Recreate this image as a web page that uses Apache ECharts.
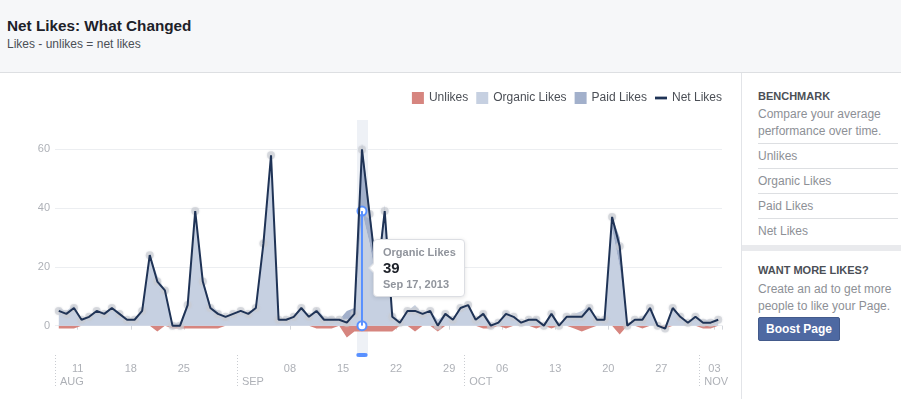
<!DOCTYPE html>
<html>
<head>
<meta charset="utf-8">
<script src="https://cdn.jsdelivr.net/npm/echarts@6/dist/echarts.min.js"></script>
<style>
html,body{margin:0;padding:0;width:901px;height:399px;overflow:hidden;background:#fff;font-family:"Liberation Sans",Helvetica,Arial,sans-serif;}
#header{position:absolute;left:0;top:0;width:901px;height:72px;background:#f6f7f9;border-bottom:1px solid #dddfe2;}
.t{position:absolute;white-space:nowrap;line-height:1;}
#chart{position:absolute;left:0;top:0;width:742px;height:399px;}
#side{position:absolute;left:741px;top:73px;width:160px;height:326px;border-left:1px solid #e2e4e8;background:#fff;}
.sep{position:absolute;left:16px;width:140px;height:1px;background:#dddfe2;}
#band{position:absolute;left:0;top:172px;width:160px;height:6px;background:#e9eaed;}
#btn{position:absolute;left:16px;top:244px;width:80px;height:22px;background:#4e69a2;border:1px solid #435a8b;border-radius:2px;color:#fff;font-weight:bold;font-size:12px;text-align:center;line-height:22px;}
</style>
</head>
<body>
<div id="header">
  <div class="t" style="left:7px;top:18px;font-size:15.3px;font-weight:bold;color:#1d2129;">Net Likes: What Changed</div>
  <div class="t" style="left:7px;top:38px;font-size:12px;color:#4b4f56;">Likes - unlikes = net likes</div>
</div>
<div id="side">
  <div class="t" style="left:16px;top:18px;font-size:11px;font-weight:bold;color:#4b4f56;">BENCHMARK</div>
  <div class="t" style="left:16px;top:35px;font-size:12px;color:#8d9096;">Compare your average</div>
  <div class="t" style="left:16px;top:52px;font-size:12px;color:#8d9096;">performance over time.</div>
  <div class="sep" style="top:70px;"></div>
  <div class="t" style="left:16px;top:77px;font-size:12px;color:#8d9096;">Unlikes</div>
  <div class="sep" style="top:95px;"></div>
  <div class="t" style="left:16px;top:102px;font-size:12px;color:#8d9096;">Organic Likes</div>
  <div class="sep" style="top:120px;"></div>
  <div class="t" style="left:16px;top:127px;font-size:12px;color:#8d9096;">Paid Likes</div>
  <div class="sep" style="top:145px;"></div>
  <div class="t" style="left:16px;top:152px;font-size:12px;color:#8d9096;">Net Likes</div>
  <div id="band"></div>
  <div class="t" style="left:16px;top:192px;font-size:11px;font-weight:bold;color:#4b4f56;">WANT MORE LIKES?</div>
  <div class="t" style="left:16px;top:210px;font-size:12px;color:#8d9096;">Create an ad to get more</div>
  <div class="t" style="left:16px;top:227px;font-size:12px;color:#8d9096;">people to like your Page.</div>
  <div id="btn">Boost Page</div>
</div>
<div id="chart"></div>
<script>
// ---- data ----
const dates = [
'2013-08-08','2013-08-09','2013-08-10','2013-08-11','2013-08-12','2013-08-13','2013-08-14','2013-08-15','2013-08-16','2013-08-17',
'2013-08-18','2013-08-19','2013-08-20','2013-08-21','2013-08-22','2013-08-23','2013-08-24','2013-08-25','2013-08-26','2013-08-27',
'2013-08-28','2013-08-29','2013-08-30','2013-08-31','2013-09-01','2013-09-02','2013-09-03','2013-09-04','2013-09-05','2013-09-06',
'2013-09-07','2013-09-08','2013-09-09','2013-09-10','2013-09-11','2013-09-12','2013-09-13','2013-09-14','2013-09-15','2013-09-16',
'2013-09-17','2013-09-18','2013-09-19','2013-09-20','2013-09-21','2013-09-22','2013-09-23','2013-09-24','2013-09-25','2013-09-26',
'2013-09-27','2013-09-28','2013-09-29','2013-09-30','2013-10-01','2013-10-02','2013-10-03','2013-10-04','2013-10-05','2013-10-06',
'2013-10-07','2013-10-08','2013-10-09','2013-10-10','2013-10-11','2013-10-12','2013-10-13','2013-10-14','2013-10-15','2013-10-16',
'2013-10-17','2013-10-18','2013-10-19','2013-10-20','2013-10-21','2013-10-22','2013-10-23','2013-10-24','2013-10-25','2013-10-26',
'2013-10-27','2013-10-28','2013-10-29','2013-10-30','2013-10-31','2013-11-01','2013-11-02','2013-11-03'
];
const netLikes = [
5,4,6,2,3,5,4,6,4,2,
2,5,24,15,12,0,0,7,39,15,
6,4,3,4,5,4,6,28,58,2,
2,3,6,3,5,2,2,2,1,4,
60,38,16,39,3,1,5,5,4,5,
0,4,2,6,7,2,4,0,1,4,
3,1,2,2,0,4,0,3,3,3,
6,2,2,37,27,0,2,2,6,0,
-1,6,3,1,3,1,1,2
];
const organicLikes = [
6,5,7,2,3,5,4,6,4,2,
2,5,24,17,12,1,1,8,40,16,
7,5,3,4,5,4,6,28,58,2,
2,3,6,3,6,3,3,2,2,3,
39,28,14,38,5,1,5,7,4,5,
2,4,2,6,7,2,5,1,1,5,
3,1,2,3,0,5,0,3,4,5,
7,2,2,33,20,0,2,3,6,0,
0,6,3,1,3,2,2,2
];
const paidLikes = [
0,0,0,0,0,0,0,0,0,0,
0,0,0,0,0,0,0,0,0,0,
0,0,0,0,0,0,0,0,0,0,
0,0,0,0,0,0,0,0,3,3,
23,12,4,3,0,0,0,0,0,0,
0,0,0,0,0,0,0,0,0,0,
0,0,0,0,0,0,0,0,0,0,
0,0,0,4,10,0,0,0,0,0,
0,0,0,0,0,0,0,0
];
const unlikes = [
1,1,1,0,0,0,0,0,0,0,
0,0,0,2,0,1,1,1,1,1,
1,1,0,0,0,0,0,0,0,0,
0,0,0,0,1,1,1,0,4,2,
2,2,2,2,2,0,0,2,0,0,
2,0,0,0,0,0,1,1,0,1,
0,0,0,1,0,1,0,0,1,2,
1,0,0,0,3,0,0,1,0,0,
1,0,0,0,0,1,1,0
];
const yTicks = [0, 20, 40, 60];
const dayTickDates = ['2013-08-11','2013-08-18','2013-08-25','2013-09-08','2013-09-15','2013-09-22','2013-09-29','2013-10-06','2013-10-13','2013-10-20','2013-10-27','2013-11-03'];
const monthTickDates = ['2013-08-08','2013-09-01','2013-10-01','2013-11-01'];
const monthTickLabels = ['AUG','SEP','OCT','NOV'];
const legendNames = ['Unlikes','Organic Likes','Paid Likes','Net Likes'];
const selectedDate = '2013-09-17';

// ---- chart ----
const FONT = '"Liberation Sans", Helvetica, Arial, sans-serif';
const RED = '#d6857f', ORG = '#c6d0e1', PAID = '#a2b0cb', NAVY = '#1f3356', BLUE = '#5890ff';
const MON = ['Jan','Feb','Mar','Apr','May','Jun','Jul','Aug','Sep','Oct','Nov','Dec'];
const selIdx = dates.indexOf(selectedDate);
const isDayTick = (i, v) => dayTickDates.indexOf(v) >= 0;
const monthStartIdx = monthTickDates.map(d => dates.indexOf(d));
const cursorData = organicLikes.map((v, i) => i === selIdx ? v : '-');
const fmtDate = d => MON[+d.slice(5,7) - 1] + ' ' + (+d.slice(8,10)) + ', ' + d.slice(0,4);

const chart = echarts.init(document.getElementById('chart'), null, {renderer: 'canvas'});
const option = {
  animation: false,
  textStyle: {fontFamily: FONT},
  legend: {
    right: 15, top: 87, itemWidth: 12, itemHeight: 12, itemGap: 8, selectedMode: false,
    textStyle: {fontFamily: FONT, fontSize: 12, color: '#4b4f56'},
    data: [
      {name: legendNames[0], icon: 'rect'},
      {name: legendNames[1], icon: 'rect'},
      {name: legendNames[2], icon: 'rect'},
      {name: legendNames[3], icon: 'path://M0,0H13V3H0Z', itemStyle: {color: NAVY}}
    ]
  },
  tooltip: {
    trigger: 'item', triggerOn: 'none', alwaysShowContent: true, position: 'right',
    transitionDuration: 0, backgroundColor: '#fff', borderColor: '#dcdee3', borderWidth: 1,
    padding: [4, 8, 4, 9], shadowBlur: 4, shadowColor: 'rgba(0,0,0,0.12)', shadowOffsetX: 0, shadowOffsetY: 1,
    extraCssText: 'border-radius:4px;',
    formatter: p => '<div style="font-family:' + FONT.replace(/"/g, "'") + ';font-weight:bold;line-height:16px;">' +
      '<div style="font-size:11px;color:#90949c;">' + legendNames[1] + '</div>' +
      '<div style="font-size:15px;color:#1d2129;">' + p.value + '</div>' +
      '<div style="font-size:11px;color:#90949c;">' + fmtDate(p.name) + '</div></div>'
  },
  grid: {left: 55, right: 20, top: 120, bottom: 44},
  xAxis: [
    {
      type: 'category', data: dates, boundaryGap: true, offset: 0, position: 'bottom',
      axisLine: {show: false},
      axisTick: {show: true, alignWithLabel: false, interval: isDayTick, length: 4, lineStyle: {color: '#d3d6db'}},
      axisLabel: {interval: isDayTick, formatter: v => v.slice(8), color: '#aeb1b7', fontSize: 11, margin: 8,
        padding: [0, 7.6, 0, 0], fontFamily: FONT},
      splitLine: {show: false},
      axisPointer: {show: true, type: 'line', value: selectedDate, status: 'show', snap: true, triggerTooltip: false, z: 1,
        label: {show: false}, lineStyle: {color: '#eef1f6', width: 11, type: 'solid'}}
    },
    {
      type: 'value', min: 0, max: dates.length, offset: 0, position: 'bottom',
      axisLine: {show: false},
      axisTick: {show: true, customValues: monthStartIdx, length: 32, lineStyle: {color: '#c9ccd1', type: [1, 2]}},
      axisLabel: {customValues: monthStartIdx, formatter: v => monthTickLabels[monthStartIdx.indexOf(v)] || '',
        align: 'left', padding: [0, 0, 0, 5], color: '#aeb1b7', fontSize: 11, margin: 21, fontFamily: FONT},
      splitLine: {show: false}
    }
  ],
  yAxis: {
    type: 'value', min: -10, max: 70, splitNumber: 4,
    axisLine: {show: false}, axisTick: {show: false},
    axisLabel: {formatter: v => yTicks.indexOf(v) >= 0 ? String(v) : '', color: '#aeb1b7', fontSize: 11, margin: 5, fontFamily: FONT},
    splitLine: {lineStyle: {color: ['rgba(0,0,0,0)', '#eceef1', '#eceef1', '#eceef1', '#eceef1', 'rgba(0,0,0,0)']}}
  },
  series: [
    {name: legendNames[0], type: 'line', data: unlikes.map(v => -v), symbol: 'none', color: RED,
      lineStyle: {width: 0}, areaStyle: {color: RED, opacity: 1}, z: 2},
    {name: legendNames[1], type: 'line', stack: 'likes', data: organicLikes, symbol: 'none', color: ORG,
      lineStyle: {width: 0}, areaStyle: {color: ORG, opacity: 1}, z: 2},
    {name: legendNames[2], type: 'line', stack: 'likes', data: paidLikes, symbol: 'none', color: PAID,
      lineStyle: {width: 0}, areaStyle: {color: PAID, opacity: 1}, z: 2},
    {name: legendNames[3], type: 'line', data: netLikes, symbol: 'none', color: NAVY,
      lineStyle: {color: NAVY, width: 2}, z: 5},
    {name: 'points', type: 'scatter', data: netLikes, symbolSize: 8, silent: true, z: 4,
      itemStyle: {color: 'rgba(200,203,210,0.75)', shadowBlur: 2, shadowColor: 'rgba(200,203,210,0.8)'}},
    {name: 'cursor', type: 'bar', data: cursorData, barWidth: 2, z: 6, itemStyle: {color: BLUE},
      markPoint: {
        silent: true, label: {show: false},
        data: [
          {coord: [selectedDate, -10], symbol: 'roundRect', symbolSize: [11, 4], itemStyle: {color: BLUE}},
          {coord: [selectedDate, 0], symbol: 'circle', symbolSize: 9, itemStyle: {color: '#fff', borderColor: BLUE, borderWidth: 2}},
          {coord: [selectedDate, organicLikes[selIdx]], symbol: 'circle', symbolSize: 9, itemStyle: {color: '#fff', borderColor: BLUE, borderWidth: 2}}
        ]
      }}
  ]
};
chart.setOption(option);
chart.dispatchAction({type: 'showTip', seriesIndex: 5, dataIndex: selIdx});
setTimeout(() => chart.dispatchAction({type: 'showTip', seriesIndex: 5, dataIndex: selIdx}), 50);
</script>
</body>
</html>
